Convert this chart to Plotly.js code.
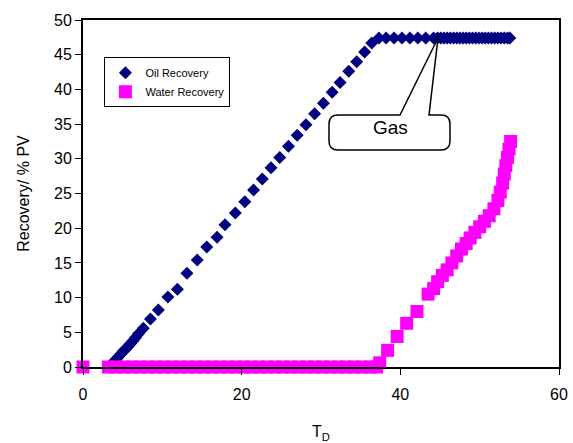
<!DOCTYPE html>
<html>
<head>
<meta charset="utf-8">
<script src="https://cdn.plot.ly/plotly-3.0.1.min.js"></script>
<style>html,body{margin:0;padding:0;background:#fff;}#chart{width:573px;height:443px;}</style>
</head>
<body>
<div id="chart"></div>
<script>
// Oil recovery (diamonds)
const oilX = [3.3,3.6,3.9,4.2,4.5,4.8,5.1,5.4,5.7,6.0,6.3,6.6,7.0,7.6,
  8.5,9.5,10.7,11.9,13.1,14.4,15.6,16.9,17.9,19.2,20.4,21.5,22.6,23.7,24.8,25.9,27.0,28.1,29.2,30.3,31.4,32.4,33.5,34.5,35.5,36.4,37.3,
  38.2,39.2,40.2,41.2,42.2,43.2,44.2,44.7,45.1,45.5,45.9,46.3,46.7,47.1,47.5,47.9,48.3,48.7,49.1,49.5,49.9,50.3,50.7,51.1,51.5,51.9,52.3,52.7,53.1,53.5,53.8];
const oilY = [0,0.4,0.8,1.1,1.5,1.9,2.3,2.6,3.0,3.4,3.8,4.2,4.8,5.6,
  6.9,8.2,10.1,11.2,13.5,15.4,17.3,18.7,20.5,22.2,23.8,25.5,27.1,28.7,30.2,31.8,33.4,34.9,36.5,38.0,39.6,41.0,42.6,44.0,45.4,46.7,47.4,
  47.4,47.4,47.4,47.4,47.4,47.4,47.4,47.4,47.4,47.4,47.4,47.4,47.4,47.4,47.4,47.4,47.4,47.4,47.4,47.4,47.4,47.4,47.4,47.4,47.4,47.4,47.4,47.4,47.4,47.4,47.4];

// Water recovery (squares)
const waterX = [0,3.2,4.2,5.2,6.2,7.2,8.2,9.2,10.2,11.2,12.2,13.2,14.2,15.2,16.2,17.2,18.2,19.2,20.2,21.2,22.2,23.2,24.2,25.2,26.2,27.2,28.2,29.2,30.2,31.2,32.2,33.2,34.2,35.2,36.2,37.0,
  37.4,38.4,39.6,40.8,42.1,43.5,44.2,44.7,45.3,45.9,46.5,47.1,47.7,48.3,48.8,49.4,50.0,50.6,51.2,51.8,52.3,52.6,52.9,53.1,53.3,53.5,53.7,53.9];
const waterY = [0,0,0,0,0,0,0,0,0,0,0,0,0,0,0,0,0,0,0,0,0,0,0,0,0,0,0,0,0,0,0,0,0,0,0,0,
  0.6,2.4,4.4,6.3,8.0,10.5,11.3,12.3,13.2,14.0,15.0,16.0,17.0,17.8,18.6,19.4,20.2,21.0,21.8,22.8,24.0,25.2,26.5,27.8,29.0,30.2,31.4,32.5];

const xTicks = [0,20,40,60];
const yTicks = [0,5,10,15,20,25,30,35,40,45,50];

const FONT = 'Liberation Sans, Arial, sans-serif';

// callout geometry in pixels -> paper
const L = 83, R = 559, T = 20, B = 367;
const px = v => ((v - L) / (R - L)).toFixed(4);
const py = v => ((B - v) / (B - T)).toFixed(4);
const P = (x, y) => px(x) + ',' + py(y);
const calloutPath =
  'M' + P(400,115) + ' L' + P(438,38) + ' L' + P(429,115) +
  ' L' + P(441,115) + ' Q' + P(450,115) + ' ' + P(450,124) +
  ' L' + P(450,141) + ' Q' + P(450,150) + ' ' + P(441,150) +
  ' L' + P(338,150) + ' Q' + P(329,150) + ' ' + P(329,141) +
  ' L' + P(329,124) + ' Q' + P(329,115) + ' ' + P(338,115) + ' Z';

const data = [
  {x: oilX, y: oilY, name: 'Oil Recovery', type: 'scatter', mode: 'markers', cliponaxis: false,
   marker: {symbol: 'diamond', size: 10, color: '#000080'}},
  {x: waterX, y: waterY, name: 'Water Recovery', type: 'scatter', mode: 'markers', cliponaxis: false,
   marker: {symbol: 'square', size: 13, color: '#FF00FF'}}
];

const layout = {
  width: 573, height: 443,
  margin: {l: L, r: 573 - R, t: T, b: 443 - B},
  paper_bgcolor: '#fff', plot_bgcolor: '#fff',
  font: {family: FONT, color: '#000', size: 16},
  showlegend: true,
  legend: {x: 0.045, y: 0.893, xanchor: 'left', yanchor: 'top',
    bordercolor: '#000', borderwidth: 1, bgcolor: '#fff',
    font: {family: FONT, size: 11, color: '#000'}, tracegroupgap: 0, itemwidth: 30},
  xaxis: {range: [0, 60], tickvals: xTicks, ticktext: xTicks.map(String),
    showgrid: false, zeroline: false, showline: true, linecolor: '#000', linewidth: 2,
    mirror: true, ticks: 'outside', ticklen: 6, tickwidth: 1, tickcolor: '#000',
    ticklabelstandoff: 6,
    tickfont: {family: FONT, size: 16},
    title: {text: 'T<sub>D</sub>', font: {family: FONT, size: 16}, standoff: 24}},
  yaxis: {range: [0, 50], tickvals: yTicks, ticktext: yTicks.map(String),
    showgrid: false, zeroline: false, showline: true, linecolor: '#000', linewidth: 2,
    mirror: true, ticks: 'outside', ticklen: 6, tickwidth: 1, tickcolor: '#000',
    tickfont: {family: FONT, size: 16},
    title: {text: 'Recovery/ % PV', font: {family: FONT, size: 16}, standoff: 20}},
  shapes: [
    {type: 'path', xref: 'paper', yref: 'paper', path: calloutPath,
     line: {color: '#000', width: 1.5}, fillcolor: '#fff', layer: 'above'}
  ],
  annotations: [
    {xref: 'paper', yref: 'paper', x: Number(px(390)), y: Number(py(128)),
     xanchor: 'center', yanchor: 'middle',
     text: 'Gas', showarrow: false, font: {family: FONT, size: 19, color: '#000'}}
  ]
};

Plotly.newPlot('chart', data, layout, {displayModeBar: false, staticPlot: true});
</script>
</body>
</html>
